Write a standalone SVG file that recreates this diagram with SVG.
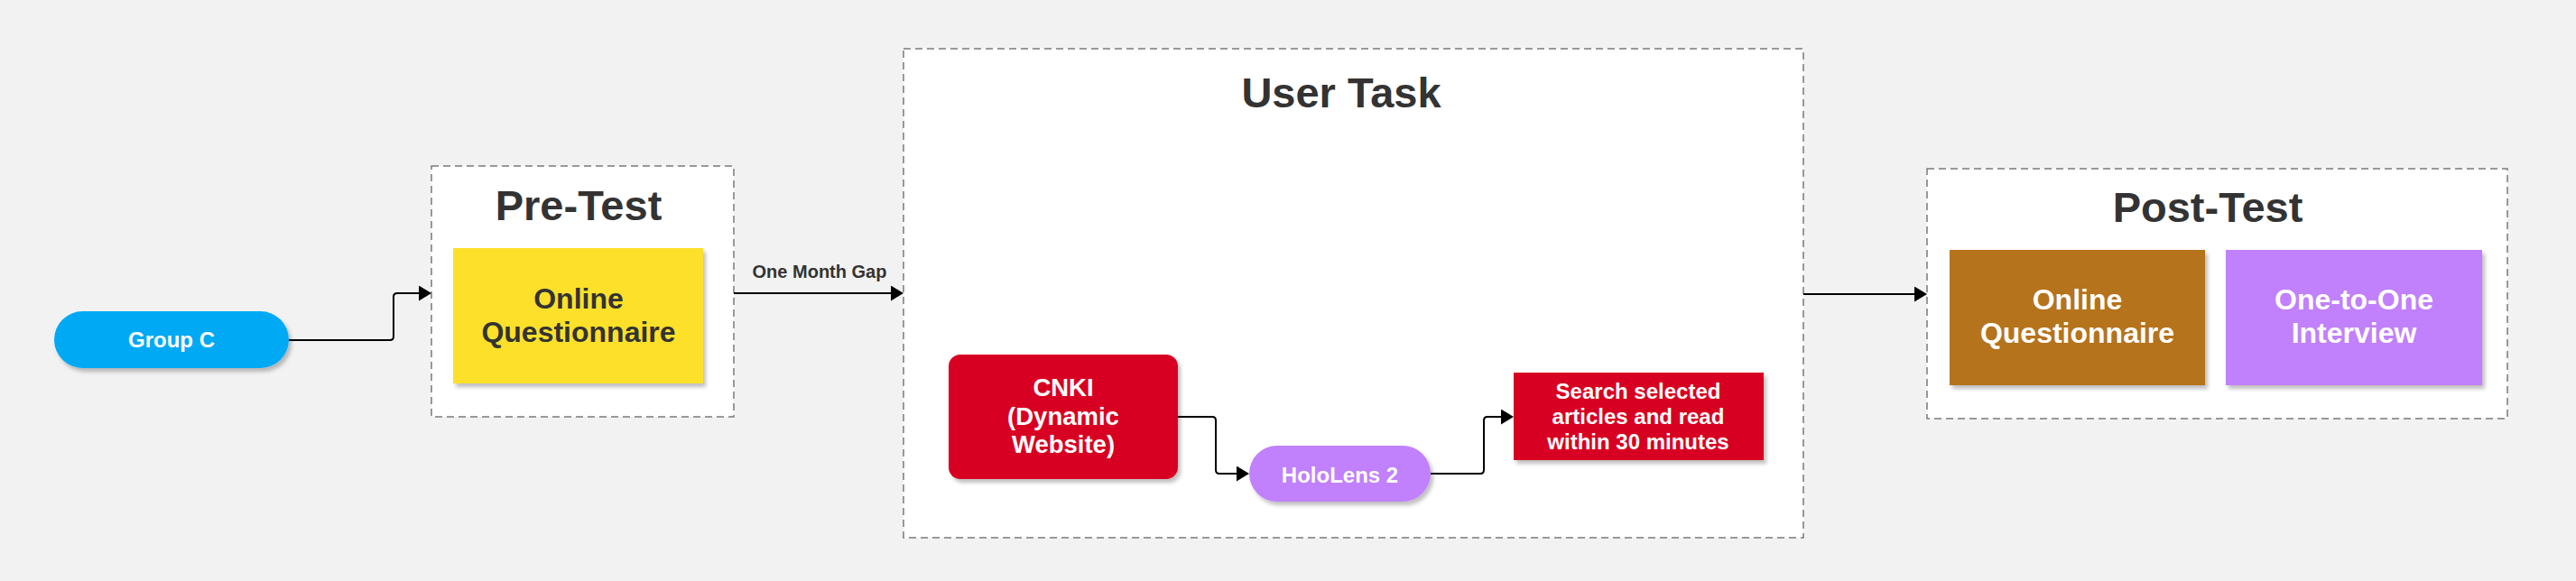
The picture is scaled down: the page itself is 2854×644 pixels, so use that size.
<svg xmlns="http://www.w3.org/2000/svg" width="2854" height="644" viewBox="0 0 2854 644">
<defs>
<filter id="sh" x="-10%" y="-10%" width="130%" height="130%">
<feDropShadow dx="3" dy="4" stdDeviation="2.2" flood-color="#000" flood-opacity="0.25"/>
</filter>
<marker id="ah" markerUnits="userSpaceOnUse" markerWidth="16" markerHeight="18" refX="0" refY="8.5" orient="auto">
<polygon points="0,0 14,8.5 0,17" fill="#000"/>
</marker>
</defs>
<style>
text{font-family:"Liberation Sans",Arial,Helvetica,sans-serif;font-weight:bold;text-anchor:middle}
.cont{fill:#ffffff;stroke:#7a7a7a;stroke-width:1.5;stroke-dasharray:8 5}
.title{font-size:47px;fill:#333333}
.lbl{font-size:32px}
.sm{font-size:24px}
.w{fill:#ffffff}
.d{fill:#333333}
.conn{fill:none;stroke:#000;stroke-width:2;marker-end:url(#ah)}
</style>
<rect width="2854" height="644" fill="#f2f2f2"/>

<g id="pre-test">
<rect class="cont" x="478" y="184" width="335" height="278"/>
<text class="title" x="641" y="244">Pre-Test</text>
</g>
<g id="user-task">
<rect class="cont" x="1001" y="54" width="997" height="542"/>
<text class="title" x="1486" y="119">User Task</text>
</g>
<g id="post-test">
<rect class="cont" x="2135" y="187" width="643" height="277"/>
<text class="title" x="2446" y="246">Post-Test</text>
</g>

<g id="group-c">
<rect x="60" y="345" width="260" height="63" rx="31.5" fill="#03a9f4" filter="url(#sh)"/>
<text class="sm w" x="190" y="385">Group C</text>
</g>
<g id="pre-questionnaire">
<rect x="502" y="275" width="277" height="150" fill="#fde02a" filter="url(#sh)"/>
<text class="lbl d" x="641" y="342">Online</text>
<text class="lbl d" x="641" y="379">Questionnaire</text>
</g>
<g id="cnki">
<rect x="1051" y="393" width="254" height="138" rx="13" fill="#d80020" filter="url(#sh)"/>
<text class="w" style="font-size:27.5px" x="1178" y="439">CNKI</text>
<text class="w" style="font-size:27.5px" x="1178" y="471">(Dynamic</text>
<text class="w" style="font-size:27.5px" x="1178" y="502">Website)</text>
</g>
<g id="hololens">
<rect x="1384" y="494" width="201" height="62" rx="31" fill="#c180fc" filter="url(#sh)"/>
<text class="sm w" x="1484.5" y="535">HoloLens 2</text>
</g>
<g id="search">
<rect x="1677" y="413" width="277" height="97" fill="#d80020" filter="url(#sh)"/>
<text class="sm w" x="1815" y="442">Search selected</text>
<text class="sm w" x="1815" y="470">articles and read</text>
<text class="sm w" x="1815" y="498">within 30 minutes</text>
</g>
<g id="post-questionnaire">
<rect x="2160" y="277" width="283" height="150" fill="#b5731d" filter="url(#sh)"/>
<text class="lbl w" x="2301.5" y="343">Online</text>
<text class="lbl w" x="2301.5" y="380">Questionnaire</text>
</g>
<g id="interview">
<rect x="2466" y="277" width="284" height="150" fill="#c180fc" filter="url(#sh)"/>
<text class="lbl w" x="2608" y="343">One-to-One</text>
<text class="lbl w" x="2608" y="380">Interview</text>
</g>

<g id="connectors">
<path class="conn" d="M320,377 H432 Q436,377 436,373 V329 Q436,325 440,325 H464"/>
<path class="conn" d="M813,325 H987"/>
<text class="d" style="font-size:20px" x="908" y="308">One Month Gap</text>
<path class="conn" d="M1305,462 H1343 Q1347,462 1347,466 V521 Q1347,525 1351,525 H1370"/>
<path class="conn" d="M1585,525 H1640 Q1644,525 1644,521 V466 Q1644,462 1648,462 H1663"/>
<path class="conn" d="M1998,326 H2121"/>
</g>
</svg>
